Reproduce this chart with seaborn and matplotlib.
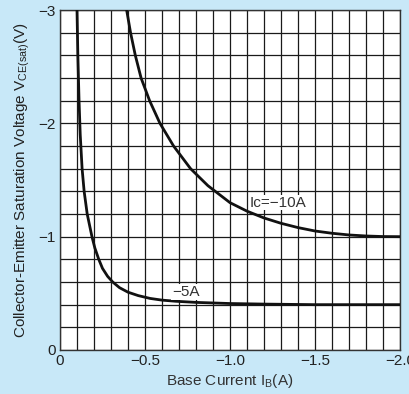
import numpy as np
import pandas as pd
import seaborn as sns
import matplotlib.pyplot as plt

# values
ib_10a = [-0.392, -0.415, -0.443, -0.477, -0.527, -0.588, -0.668, -0.768, -0.87,
          -1.0, -1.1, -1.2, -1.3, -1.4, -1.5, -1.6, -1.7, -1.8, -1.9, -2.0]
vce_10a = [-3.0, -2.8, -2.6, -2.4, -2.2, -2.0, -1.8, -1.6, -1.45,
           -1.30, -1.225, -1.165, -1.118, -1.08, -1.05, -1.03, -1.015, -1.006, -1.001, -1.0]

ib_5a = [-0.100, -0.105, -0.112, -0.119, -0.130, -0.142, -0.160, -0.188, -0.205,
         -0.228, -0.25, -0.28, -0.31, -0.35, -0.40, -0.46, -0.53, -0.60, -0.68,
         -0.80, -1.0, -1.2, -1.5, -2.0]
vce_5a = [-3.0, -2.6, -2.2, -1.9, -1.6, -1.4, -1.2, -1.0, -0.9,
          -0.8, -0.72, -0.65, -0.6, -0.55, -0.51, -0.48, -0.455, -0.44, -0.43,
          -0.42, -0.41, -0.405, -0.40, -0.40]

x_ticks = [0, -0.5, -1.0, -1.5, -2.0]
x_ticklabels = ["0", "\u22120.5", "\u22121.0", "\u22121.5", "\u22122.0"]
y_ticks = [0, -1, -2, -3]
y_ticklabels = ["0", "\u22121", "\u22122", "\u22123"]

sns.set_style("white")
plt.rcParams['font.family'] = ['Liberation Sans', 'DejaVu Sans']

bg = "#c8e8f8"
fig = plt.figure(figsize=(4.09, 3.94), dpi=100, facecolor=bg)
ax = fig.add_axes([0.1467, 0.1117, 0.978 - 0.1467, 0.9746 - 0.1117])
ax.set_facecolor("white")

# grid: 0.1 A on x, 0.2 V on y
for gx in np.arange(0, -2.05, -0.1):
    ax.axvline(gx, color="#1a1a1a", lw=0.9, zorder=1)
for gy in np.arange(0, -3.05, -0.2):
    ax.axhline(gy, color="#1a1a1a", lw=0.9, zorder=1)

df10 = pd.DataFrame({"Ib": ib_10a, "Vce": vce_10a})
df5 = pd.DataFrame({"Ib": ib_5a, "Vce": vce_5a})
for d in (df10, df5):
    sns.lineplot(data=d, x="Ib", y="Vce", sort=False, estimator=None,
                 color="#111111", lw=2.0, ax=ax, zorder=3,
                 solid_joinstyle="round", solid_capstyle="round")

ax.text(-1.118, -1.30, "Ic=\u221210A", ha="left", va="center",
        fontsize=11, color="#333333", zorder=4,
        bbox=dict(facecolor="white", edgecolor="none", pad=0.5))
ax.text(-0.66, -0.51, "\u22125A", ha="left", va="center",
        fontsize=11, color="#333333", zorder=4,
        bbox=dict(facecolor="white", edgecolor="none", pad=0.5))

ax.set_xlim(0, -2.0)
ax.set_ylim(0, -3.0)
ax.set_xticks(x_ticks)
ax.set_xticklabels(x_ticklabels)
ax.set_yticks(y_ticks)
ax.set_yticklabels(y_ticklabels)
ax.tick_params(length=0, labelsize=11, colors="#222222", pad=3)

ax.set_xlabel(r"Base Current I$\mathregular{_B}$(A)", fontsize=11,
              color="#333333", labelpad=3)
ax.set_ylabel(r"Collector-Emitter Saturation Voltage V$\mathregular{_{CE(sat)}}$(V)",
              fontsize=11, color="#222222", labelpad=5)

for s in ax.spines.values():
    s.set_color("#333333")
    s.set_linewidth(1.0)

fig.savefig("out.png", dpi=100, facecolor=bg)
